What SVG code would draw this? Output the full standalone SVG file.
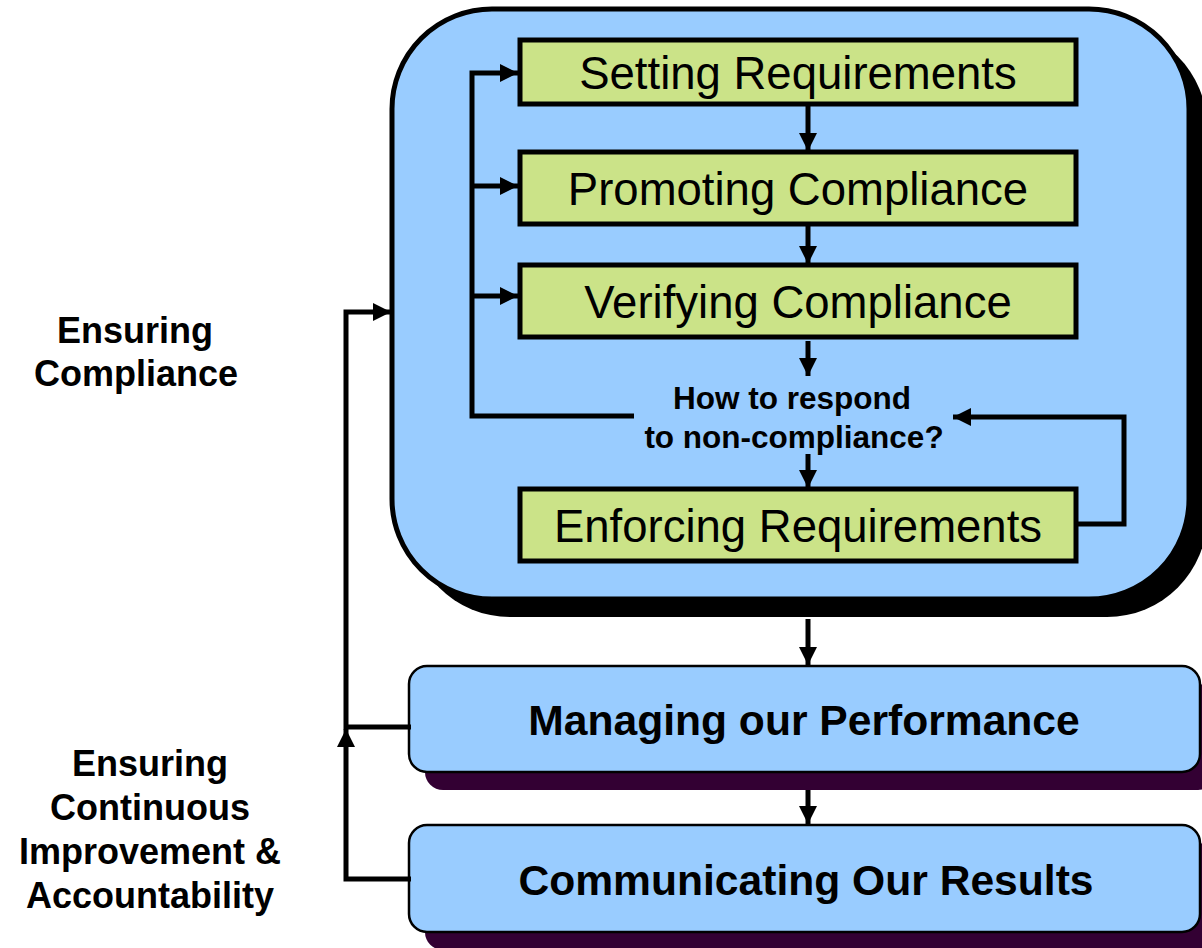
<svg xmlns="http://www.w3.org/2000/svg" width="1202" height="948" viewBox="0 0 1202 948">
<defs>
<style>
text{font-family:"Liberation Sans",Arial,sans-serif;fill:#000}
.lbl{font-size:36px;font-weight:bold;text-anchor:middle}
.step{font-size:45.5px;text-anchor:middle}
.q{font-size:31.5px;font-weight:bold;text-anchor:middle}
.big{font-size:42.6px;font-weight:bold;text-anchor:middle}
.green{fill:#CBE388;stroke:#000;stroke-width:5}
.blue{fill:#99CCFF;stroke:#000;stroke-width:2.5}
.conn{fill:none;stroke:#000;stroke-width:5}
</style>
<marker id="ah" markerUnits="userSpaceOnUse" markerWidth="19" markerHeight="19" refX="18" refY="9" orient="auto" viewBox="0 0 19 18">
<path d="M0,0 L18,9 L0,18 Z" fill="#000"/>
</marker>
</defs>
<rect width="1202" height="948" fill="#fff"/>

<g id="label-compliance">
<text class="lbl" x="135" y="343">Ensuring</text>
<text class="lbl" x="136" y="386">Compliance</text>
</g>
<g id="label-improvement">
<text class="lbl" x="150" y="776">Ensuring</text>
<text class="lbl" x="150" y="820">Continuous</text>
<text class="lbl" x="150" y="864">Improvement &amp;</text>
<text class="lbl" x="150" y="908">Accountability</text>
</g>

<g id="ensuring-compliance">
<rect x="410" y="27" width="797" height="590" rx="100" fill="#000"/>
<rect x="392" y="9" width="797" height="590" rx="100" fill="#99CCFF" stroke="#000" stroke-width="5"/>
</g>

<g id="setting-requirements">
<rect class="green" x="520" y="40" width="556" height="64"/>
<text class="step" x="798" y="89">Setting Requirements</text>
</g>
<g id="promoting-compliance">
<rect class="green" x="520" y="152" width="556" height="72"/>
<text class="step" x="798" y="205">Promoting Compliance</text>
</g>
<g id="verifying-compliance">
<rect class="green" x="520" y="265" width="556" height="72"/>
<text class="step" x="798" y="318">Verifying Compliance</text>
</g>
<g id="respond-question">
<text class="q" x="792" y="409">How to respond</text>
<text class="q" x="794" y="448">to non-compliance?</text>
</g>
<g id="enforcing-requirements">
<rect class="green" x="520" y="489" width="556" height="72"/>
<text class="step" x="798" y="542">Enforcing Requirements</text>
</g>

<g id="managing-performance">
<rect x="425" y="684" width="791" height="106" rx="18" fill="#330033"/>
<rect class="blue" x="409" y="666" width="791" height="106" rx="18"/>
<text class="big" x="804" y="735">Managing our Performance</text>
</g>
<g id="communicating-results">
<rect x="425" y="843" width="791" height="107" rx="18" fill="#330033"/>
<rect class="blue" x="409" y="825" width="791" height="107" rx="18"/>
<text class="big" x="806" y="895">Communicating Our Results</text>
</g>

<g id="connectors">
<path class="conn" d="M634,416 H472 V73 H518" marker-end="url(#ah)"/>
<path class="conn" d="M472,186 H518" marker-end="url(#ah)"/>
<path class="conn" d="M472,296 H518" marker-end="url(#ah)"/>
<path class="conn" d="M808,104 V151" marker-end="url(#ah)"/>
<path class="conn" d="M808,226 V264" marker-end="url(#ah)"/>
<path class="conn" d="M808,341 V376" marker-end="url(#ah)"/>
<path class="conn" d="M808,454 V488" marker-end="url(#ah)"/>
<path class="conn" d="M1076,524 H1124 V417 H953" marker-end="url(#ah)"/>
<path class="conn" d="M808,619 V665" marker-end="url(#ah)"/>
<path class="conn" d="M808,790 V824" marker-end="url(#ah)"/>
<path class="conn" d="M411,727 H346 V312 H391" marker-end="url(#ah)"/>
<path class="conn" d="M411,879 H346 V729" marker-end="url(#ah)"/>
</g>
</svg>
